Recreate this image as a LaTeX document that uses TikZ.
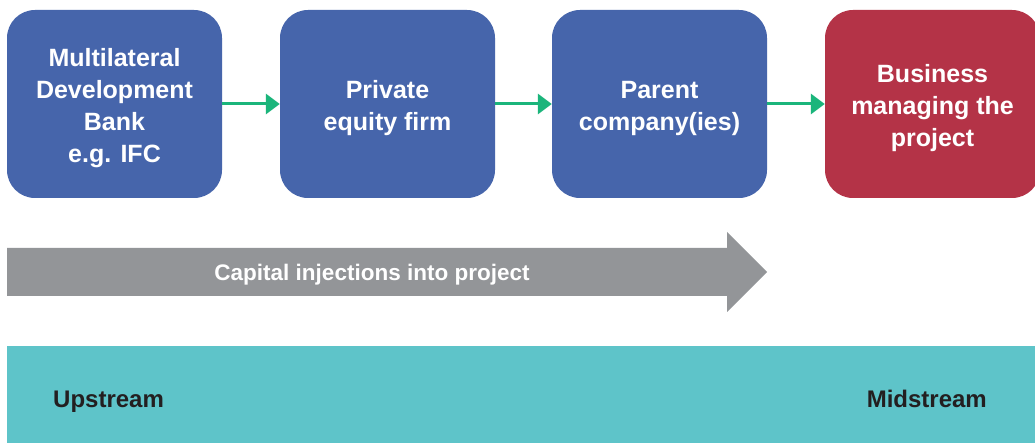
\documentclass[tikz,border=0pt]{standalone}
\usepackage{fontspec}
\setmainfont{Liberation Sans}
\usetikzlibrary{arrows.meta}
\definecolor{boxblue}{HTML}{4665AB}
\definecolor{boxred}{HTML}{B43347}
\definecolor{arrgreen}{HTML}{1BB57B}
\definecolor{arrgray}{HTML}{939598}
\definecolor{bandteal}{HTML}{5EC4C9}
\definecolor{darktext}{HTML}{231F20}
\tikzset{
  entity/.style={rounded corners=28pt, minimum width=215pt, minimum height=188pt,
    inner sep=0pt},
  entitytext/.style={inner sep=0pt, text=white, align=center,
    font=\fontsize{25pt}{32pt}\selectfont\bfseries},
  flow/.style={draw=arrgreen, line width=3pt, -{Triangle[length=14pt,width=20pt]}},
  bandlabel/.style={text=darktext, font=\fontsize{24pt}{28pt}\selectfont\bfseries, inner sep=0pt}
}
\begin{document}
\begin{tikzpicture}[x=1pt,y=-1pt]
\useasboundingbox (0,0) rectangle (1035,443);
\clip (0,0) rectangle (1035,443);
\fill[white] (0,0) rectangle (1035,443);
\node[entity, fill=boxblue] (mdb) at (114.5,104) {};
\node[entity, fill=boxblue] (pef) at (387.5,104) {};
\node[entity, fill=boxblue] (par) at (659.5,104) {};
\node[entity, fill=boxred] (biz) at (932.5,104) {};
\node[entitytext] (mdbt) at (114.5,108.5) {Multilateral\\Development\\Bank\\e.g. IFC};
\node[entitytext] (peft) at (387.5,108.5) {Private\\equity firm};
\node[entitytext] (part) at (659.5,108.5) {Parent\\company(ies)};
\node[entitytext] (bizt) at (932.5,108) {Business\\managing the\\project};
\draw[flow] (mdb.east) -- (pef.west);
\draw[flow] (pef.east) -- (par.west);
\draw[flow] (par.east) -- (biz.west);
\fill[arrgray] (7,248) -- (727,248) -- (727,232) -- (767,272) -- (727,312) -- (727,296) -- (7,296) -- cycle;
\node[text=white, font=\fontsize{22.5pt}{26pt}\selectfont\bfseries, inner sep=0pt, anchor=base] (cap) at (372,281) {Capital injections into project};
\fill[bandteal] (7,346) rectangle (1040,450);
\node[bandlabel, anchor=base west] (up) at (53,407) {Upstream};
\node[bandlabel, anchor=base east] (mid) at (987,407) {Midstream};
\end{tikzpicture}
\end{document}
